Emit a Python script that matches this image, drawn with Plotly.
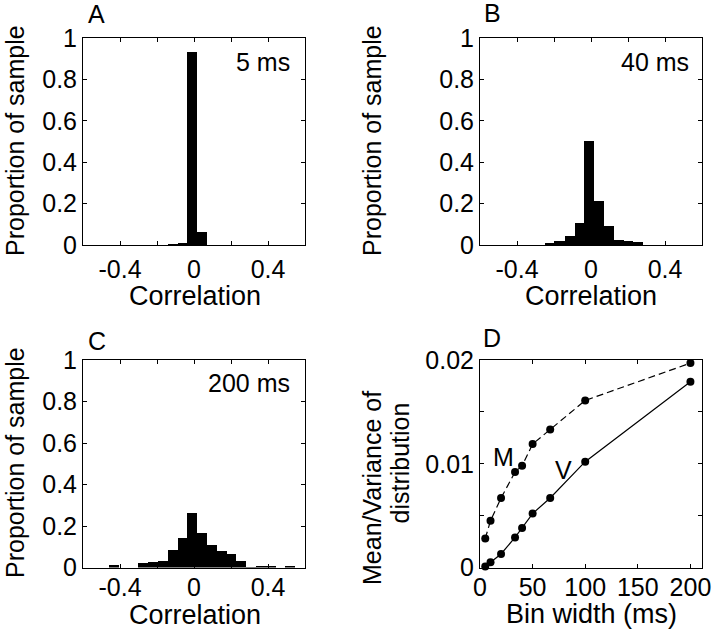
import plotly.graph_objects as go

# ---------------- data ----------------
bin_centers = [-0.486, -0.433, -0.38, -0.327, -0.274, -0.221, -0.168, -0.115, -0.062, -0.009,
               0.044, 0.097, 0.15, 0.203, 0.256, 0.309, 0.362, 0.415, 0.468, 0.521]
bin_width = 0.053
prop_5ms = [0, 0, 0, 0, 0, 0, 0, 0.003, 0.011, 0.934, 0.061, 0, 0, 0, 0, 0, 0, 0, 0, 0]
prop_40ms = [0, 0, 0, 0, 0, 0.011, 0.019, 0.043, 0.108, 0.504, 0.213, 0.092, 0.023, 0.018, 0.015, 0, 0, 0, 0, 0]
prop_200ms = [0, 0.01, 0, 0, 0.022, 0.026, 0.032, 0.084, 0.14, 0.265, 0.167, 0.108, 0.08, 0.064, 0.029, 0.002, 0.008, 0.008, 0, 0.006]

bin_width_ms = [5, 10, 20, 33.3, 40, 50, 66.7, 100, 200]
mean_vals = [0.0028, 0.0045, 0.0067, 0.0092, 0.0098, 0.0119, 0.0133, 0.0161, 0.0197]
var_vals = [0.0001, 0.0005, 0.0013, 0.0029, 0.0038, 0.0052, 0.0067, 0.0102, 0.0179]

corr_tickvals = [-0.4, -0.2, 0, 0.2, 0.4]
corr_ticktext = ["-0.4", "", "0", "", "0.4"]
prop_tickvals = [0, 0.2, 0.4, 0.6, 0.8, 1]
prop_ticktext = ["0", "0.2", "0.4", "0.6", "0.8", "1"]
bw_tickvals = [0, 50, 100, 150, 200]
bw_ticktext = ["0", "50", "100", "150", "200"]
mv_tickvals = [0, 0.005, 0.01, 0.015, 0.02]
mv_ticktext = ["0", "", "0.01", "", "0.02"]

# ---------------- figure ----------------
FONT = "Liberation Sans, Arial, sans-serif"
W, H = 720, 631
fig = go.Figure()

def px_x(v):
    return v / W

def px_y(v):
    return 1 - v / H

top_row = [px_y(245), px_y(38)]
bot_row = [px_y(567.5), px_y(360)]
left_col = [px_x(83), px_x(305)]
right_col = [px_x(480), px_x(702)]

panels = [
    ("x", "y", prop_5ms, left_col, top_row, 2),
    ("x2", "y2", prop_40ms, right_col, top_row, 2),
    ("x3", "y3", prop_200ms, left_col, bot_row, -3),
]

for xa, ya, vals, _, _, _ in panels:
    fig.add_trace(go.Bar(x=bin_centers, y=vals, width=bin_width, xaxis=xa, yaxis=ya,
                         marker=dict(color="black", line=dict(width=0)), showlegend=False))

fig.add_trace(go.Scatter(x=bin_width_ms, y=mean_vals, xaxis="x4", yaxis="y4", mode="lines+markers",
                         line=dict(color="black", width=1.2, dash="7px,4px"),
                         marker=dict(color="black", size=8), cliponaxis=False, showlegend=False))
fig.add_trace(go.Scatter(x=bin_width_ms, y=var_vals, xaxis="x4", yaxis="y4", mode="lines+markers",
                         line=dict(color="black", width=1.2),
                         marker=dict(color="black", size=8), cliponaxis=False, showlegend=False))

axis_common = dict(showline=True, linecolor="black", linewidth=1, mirror="allticks",
                   ticks="inside", ticklen=4, tickcolor="black", showgrid=False, zeroline=False,
                   automargin=False,
                   tickfont=dict(family=FONT, size=25, color="black"))

layout = dict(template="none", width=W, height=H, margin=dict(l=0, r=0, t=0, b=0, pad=0),
              paper_bgcolor="white", plot_bgcolor="white", bargap=0,
              font=dict(family=FONT, size=25, color="black"))

for i, (xa, ya, vals, xd, yd, so) in enumerate(panels):
    sfx = "" if i == 0 else str(i + 1)
    layout["xaxis" + sfx] = dict(axis_common, domain=xd, range=[-0.6, 0.6], anchor="y" + sfx,
                                 tickvals=corr_tickvals, ticktext=corr_ticktext, ticklabelstandoff=so)
    layout["yaxis" + sfx] = dict(axis_common, domain=yd, range=[0, 1], anchor="x" + sfx,
                                 tickvals=prop_tickvals, ticktext=prop_ticktext, ticklabelstandoff=0)

layout["xaxis4"] = dict(axis_common, domain=right_col, range=[0, 211], anchor="y4",
                        tickvals=bw_tickvals, ticktext=bw_ticktext, ticklabelstandoff=-3)
layout["yaxis4"] = dict(axis_common, domain=bot_row, range=[0, 0.02], anchor="x4",
                        tickvals=mv_tickvals, ticktext=mv_ticktext, ticklabelstandoff=0)

fig.update_layout(**layout)

def ann(text, x, y, size=26, angle=0, xanchor="center"):
    fig.add_annotation(text=text, x=px_x(x), y=px_y(y), xref="paper", yref="paper",
                       showarrow=False, textangle=angle, xanchor=xanchor, yanchor="middle",
                       font=dict(family=FONT, size=size, color="black"))

# panel letters
ann("A", 96.5, 14, 25)
ann("B", 492.5, 13, 25)
ann("C", 96.5, 341, 25)
ann("D", 491.5, 338, 25)

# bin width labels
ann("5 ms", 292, 62, 25, xanchor="right")
ann("40 ms", 691, 62, 25, xanchor="right")
ann("200 ms", 292, 383, 25, xanchor="right")

# axis titles
ann("Correlation", 195, 296, 27)
ann("Correlation", 591, 296, 27)
ann("Correlation", 195, 615, 27)
ann("Bin width (ms)", 591, 614, 27)
ann("Proportion of sample", 15, 141, 25, angle=-90)
ann("Proportion of sample", 372, 141, 25, angle=-90)
ann("Proportion of sample", 15, 463, 25, angle=-90)
ann("Mean/Variance of", 372, 488, 25, angle=-90)
ann("distribution", 399, 463.5, 25, angle=-90)

# curve labels
ann("M", 503, 457, 25)
ann("V", 563, 470, 25)

fig.write_html("out.html", config={"displayModeBar": False},
               post_script="document.body.style.margin='0';")
